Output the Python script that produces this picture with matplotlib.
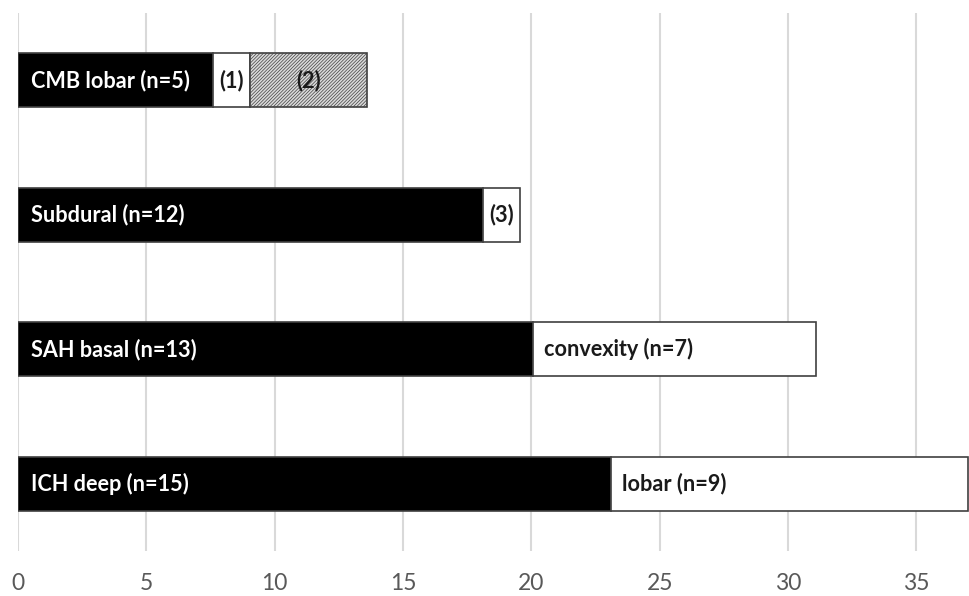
import matplotlib
matplotlib.use("Agg")
import matplotlib.pyplot as plt

# categories bottom -> top
categories = ["ICH", "SAH", "Subdural", "CMB"]
first_vals = [23.1, 20.05, 18.1, 7.6]
first_labels = ["ICH deep (n=15)", "SAH basal (n=13)", "Subdural (n=12)", "CMB lobar (n=5)"]
second_vals = [13.9, 11.05, 1.45, 1.45]
second_labels = ["lobar (n=9)", "convexity (n=7)", "(3)", "(1)"]
third_vals = [0, 0, 0, 4.55]
third_labels = ["", "", "", "(2)"]
xticks = [0, 5, 10, 15, 20, 25, 30, 35]

plt.rcParams["font.family"] = ["Lato", "DejaVu Sans"]
plt.rcParams["hatch.linewidth"] = 0.5
plt.rcParams["hatch.color"] = "#9a9a9a"

fig = plt.figure(figsize=(9.69, 5.96), dpi=100)
ax = fig.add_axes([18 / 969, 1 - 551 / 596, 951 / 969, 538 / 596])

ypos = list(range(len(categories)))
h = 0.405
edge = "#404040"

ax.barh(ypos, first_vals, height=h, color="black", edgecolor=edge, linewidth=1.2, zorder=3)
ax.barh(ypos, second_vals, left=first_vals, height=h, color="white",
        edgecolor=edge, linewidth=1.2, zorder=3)
lefts3 = [a + b for a, b in zip(first_vals, second_vals)]
for y, l, w in zip(ypos, lefts3, third_vals):
    if w > 0:
        ax.barh(y, w, left=l, height=h, color="#dadada", edgecolor=edge,
                linewidth=1.2, hatch="//////////", zorder=3)

fs = 15.6
for y, lab in zip(ypos, first_labels):
    ax.text(0.5, y, lab, color="white", fontsize=fs, fontweight="bold",
            va="center", ha="left", zorder=4)
for y, l, w, lab in zip(ypos, first_vals, second_vals, second_labels):
    if w > 3:
        ax.text(l + 0.45, y, lab, color="#1a1a1a", fontsize=fs, fontweight="bold",
                va="center", ha="left", zorder=4)
    else:
        ax.text(l + w / 2, y, lab, color="#1a1a1a", fontsize=fs, fontweight="bold",
                va="center", ha="center", zorder=4)
for y, l, w, lab in zip(ypos, lefts3, third_vals, third_labels):
    if w > 0:
        ax.text(l + w / 2, y, lab, color="#1a1a1a", fontsize=fs, fontweight="bold",
                va="center", ha="center", zorder=4)

ax.set_xlim(0, 37.05)
ax.set_ylim(-0.5, 3.5)
ax.set_xticks(xticks)
ax.set_yticks([])
ax.grid(axis="x", color="#d9d9d9", linewidth=1.5, zorder=0)
ax.tick_params(axis="x", length=0, pad=16, labelsize=16.5, labelcolor="#595959")
for s in ax.spines.values():
    s.set_visible(False)

fig.savefig("out.png", dpi=100)
